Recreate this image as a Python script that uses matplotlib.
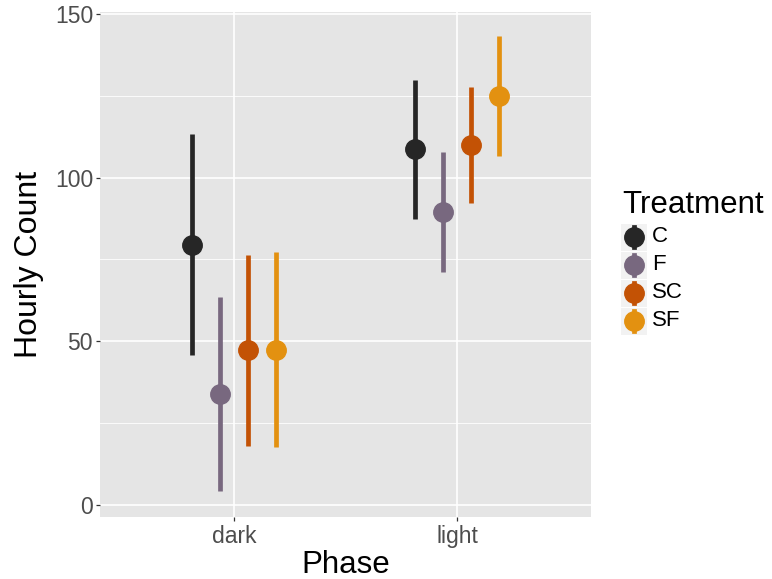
import matplotlib
matplotlib.use("Agg")
import matplotlib.pyplot as plt
from matplotlib.lines import Line2D
from matplotlib.patches import Rectangle
import numpy as np

plt.rcParams['font.family'] = ['Liberation Sans', 'DejaVu Sans']

phases = ["dark", "light"]
treatments = ["C", "F", "SC", "SF"]
colors = ["#262626", "#78687F", "#C35205", "#E39110"]

# mean, lower, upper per treatment for [dark, light]
means = {
    "C":  [79.5, 108.7],
    "F":  [33.9, 89.6],
    "SC": [47.2, 110.0],
    "SF": [47.3, 125.0],
}
lowers = {
    "C":  [45.7, 87.3],
    "F":  [4.1, 71.3],
    "SC": [18.1, 92.2],
    "SF": [17.6, 106.7],
}
uppers = {
    "C":  [113.4, 129.8],
    "F":  [63.5, 107.9],
    "SC": [76.2, 127.6],
    "SF": [77.2, 143.4],
}

W, H = 772, 579
fig = plt.figure(figsize=(W / 100, H / 100), dpi=100)
ax = fig.add_axes([100 / W, 1 - 517 / H, (591 - 100) / W, (517 - 12) / H])
ax.set_facecolor("#E5E5E5")
for s in ax.spines.values():
    s.set_visible(False)

xpos = np.arange(1, len(phases) + 1)
dodge = 0.5
n = len(treatments)
offsets = (np.arange(n) - (n - 1) / 2) * dodge / n

ax.set_xlim(0.4, 2.6)
ax.set_ylim(-3.7, 150.6)

# grid
for y in [25, 75, 125]:
    ax.axhline(y, color="white", lw=0.6, zorder=0.5)
for y in [0, 50, 100, 150]:
    ax.axhline(y, color="white", lw=1.2, zorder=0.6)
for x in xpos:
    ax.axvline(x, color="white", lw=1.2, zorder=0.6)

for i, t in enumerate(treatments):
    xs = xpos + offsets[i]
    ax.vlines(xs, lowers[t], uppers[t], color=colors[i], lw=3.4, zorder=2)
    ax.plot(xs, means[t], "o", color=colors[i], ms=14, mec=colors[i], zorder=3, ls="none")

ax.set_xticks(xpos)
ax.set_xticklabels(phases)
ax.set_yticks([0, 50, 100, 150])
ax.set_yticklabels(["0", "50", "100", "150"])
ax.tick_params(axis="both", length=3.2, width=0.9, color="#333333", labelcolor="#4D4D4D",
               labelsize=16.5)
ax.tick_params(axis="y", pad=1.8)
ax.tick_params(axis="x", pad=2.4)
ax.set_xlabel("Phase", fontsize=22.5, color="black")
ax.set_ylabel("Hourly Count", fontsize=23, color="black")
ax.xaxis.set_label_coords(0.5, -0.066)
ax.yaxis.set_label_coords(-0.114, 0.5)

# legend
fig.text(622.7 / W, 1 - 213.3 / H, "Treatment", fontsize=22.5, color="black",
         va="baseline", ha="left")
key_h = 28
for i, t in enumerate(treatments):
    cy = 237 + i * key_h
    fig.patches.append(Rectangle((620.7 / W, 1 - (cy + 13.5) / H), 26 / W, 27 / H,
                                 transform=fig.transFigure, facecolor="#F2F2F2",
                                 edgecolor="none"))
    fig.lines.append(Line2D([633.7 / W, 633.7 / W], [1 - (cy - 10) / H, 1 - (cy + 10) / H],
                            transform=fig.transFigure, color=colors[i], lw=3.4))
    fig.lines.append(Line2D([633.7 / W], [1 - cy / H], transform=fig.transFigure, marker="o",
                            ms=14, color=colors[i], ls="none"))
    fig.text(652 / W, 1 - cy / H, t, fontsize=16, color="black", va="center", ha="left")

fig.savefig("out.png", dpi=100)
